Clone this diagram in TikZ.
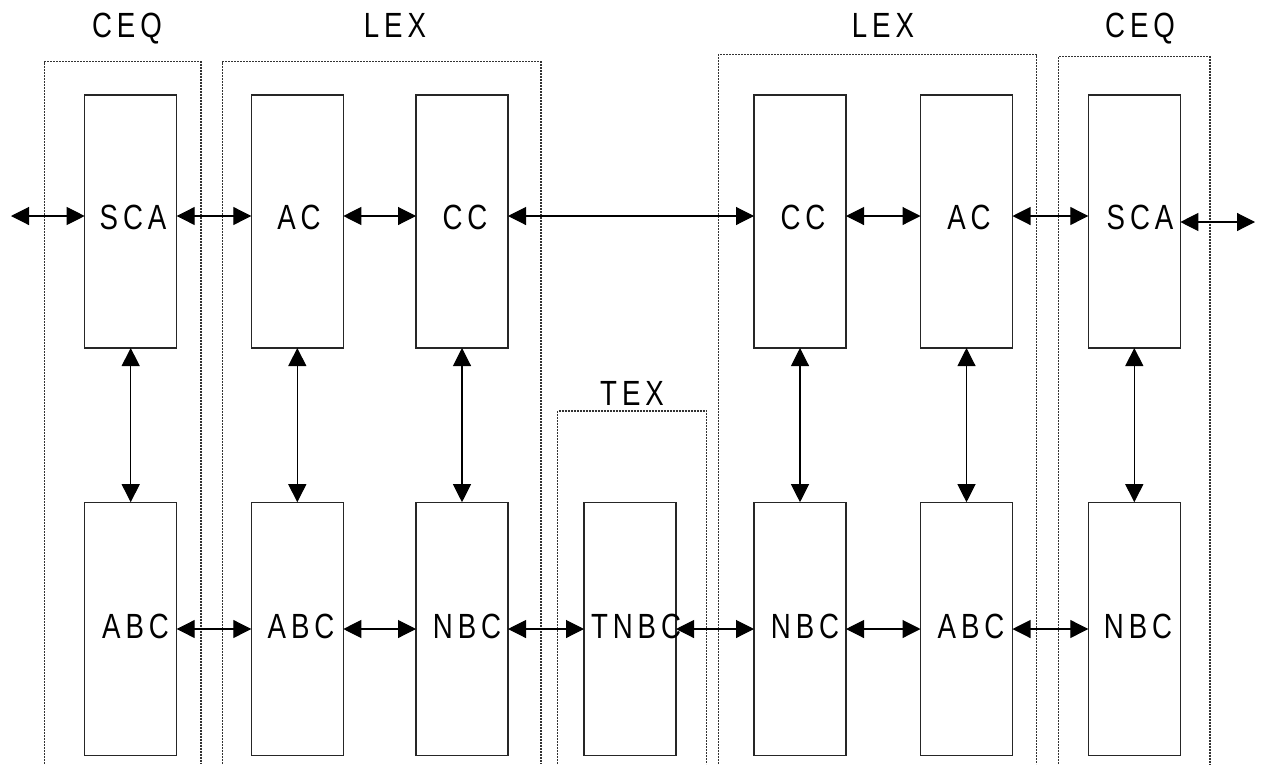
\documentclass[tikz,border=0pt]{standalone}
\usepackage{fontspec}
\usetikzlibrary{arrows.meta}
\newfontfamily\labfont[FakeStretch=0.79,LetterSpace=14]{Liberation Sans}
\begin{document}
\begin{tikzpicture}[x=1pt,y=-1pt,
  unitbox/.style={draw=black!85,line width=1.2pt,minimum width=92pt,minimum height=253pt,inner sep=0pt,outer sep=0pt},
  lab/.style={font=\labfont\fontsize{35}{40}\selectfont,inner sep=0pt,anchor=base},
  biarrow/.style={{Triangle[length=18pt,width=18pt]}-{Triangle[length=18pt,width=18pt]},line width=1.1pt},
  group/.style={draw=black!80,line width=1.1pt,dash pattern=on 2pt off 1pt}]
\useasboundingbox (0,0) rectangle (1261,764);

% exchange groups (open at the bottom)
\draw[group] (44.3,764) -- (44.3,61.7) -- (201,61.7) -- (201,764);
\draw[group] (222.7,764) -- (222.7,61.7) -- (541,61.7) -- (541,764);
\draw[group] (557.7,764) -- (557.7,411) -- (706.7,411) -- (706.7,764);
\draw[group] (718.3,764) -- (718.3,54.7) -- (1036.7,54.7) -- (1036.7,764);
\draw[group] (1058.3,764) -- (1058.3,56.7) -- (1210,56.7) -- (1210,764);

% group titles
\node[lab] (gceq1) at (127,37) {CEQ};
\node[lab] (glex1) at (395,37) {LEX};
\node[lab] (gtex)  at (632,405) {TEX};
\node[lab] (glex2) at (883,37) {LEX};
\node[lab] (gceq2) at (1140,37) {CEQ};

% upper row of units
\node[unitbox] (sca1) at (130.7,221.5) {};
\node[unitbox] (ac1)  at (297.3,221.5) {};
\node[unitbox] (cc1)  at (462,221.5) {};
\node[unitbox] (cc2)  at (800,221.5) {};
\node[unitbox] (ac2)  at (966.5,221.5) {};
\node[unitbox] (sca2) at (1134.3,221.5) {};

% lower row of units
\node[unitbox] (abc1) at (130.7,628.7) {};
\node[unitbox] (abc2) at (297.3,628.7) {};
\node[unitbox] (nbc1) at (462,628.7) {};
\node[unitbox] (tnbc) at (630,628.7) {};
\node[unitbox] (nbc2) at (800,628.7) {};
\node[unitbox] (abc3) at (966.5,628.7) {};
\node[unitbox] (nbc3) at (1134.3,628.7) {};

% unit names
\node[lab] (tsca1) at (133,229.5) {SCA};
\node[lab] (tac1)  at (299,229.5) {AC};
\node[lab] (tcc1)  at (465,229.5) {CC};
\node[lab] (tcc2)  at (803,229.5) {CC};
\node[lab] (tac2)  at (969,229.5) {AC};
\node[lab] (tsca2) at (1140,229.5) {SCA};
\node[lab] (tabc1) at (135.5,638) {ABC};
\node[lab] (tabc2) at (301,638) {ABC};
\node[lab] (tnbc1) at (467,638) {NBC};
\node[lab] (ttnbc) at (636,638) {TNBC};
\node[lab] (tnbc2) at (805,638) {NBC};
\node[lab] (tabc3) at (971,638) {ABC};
\node[lab] (tnbc3) at (1138,638) {NBC};

% row levels and free ends
\coordinate (rt) at (0,216);
\coordinate (rb) at (0,629);
\coordinate (extL) at (11,216);
\coordinate (extR) at (1255,222);

% upper links
\draw[biarrow] (extL) -- (sca1.west |- rt);
\draw[biarrow] (sca1.east |- rt) -- (ac1.west |- rt);
\draw[biarrow] (ac1.east |- rt) -- (cc1.west |- rt);
\draw[biarrow] (cc1.east |- rt) -- (cc2.west |- rt);
\draw[biarrow] (cc2.east |- rt) -- (ac2.west |- rt);
\draw[biarrow] (ac2.east |- rt) -- (sca2.west |- rt);
\draw[biarrow] (sca2.east |- extR) -- (extR);

% lower links
\draw[biarrow] (abc1.east |- rb) -- (abc2.west |- rb);
\draw[biarrow] (abc2.east |- rb) -- (nbc1.west |- rb);
\draw[biarrow] (nbc1.east |- rb) -- (tnbc.west |- rb);
\draw[biarrow] (tnbc.east |- rb) -- (nbc2.west |- rb);
\draw[biarrow] (nbc2.east |- rb) -- (abc3.west |- rb);
\draw[biarrow] (abc3.east |- rb) -- (nbc3.west |- rb);

% vertical links
\foreach \u/\l in {sca1/abc1,ac1/abc2,cc1/nbc1,cc2/nbc2,ac2/abc3,sca2/nbc3}
  \draw[biarrow,xshift=-2pt] (\u.south) -- (\l.north);
\end{tikzpicture}
\end{document}
